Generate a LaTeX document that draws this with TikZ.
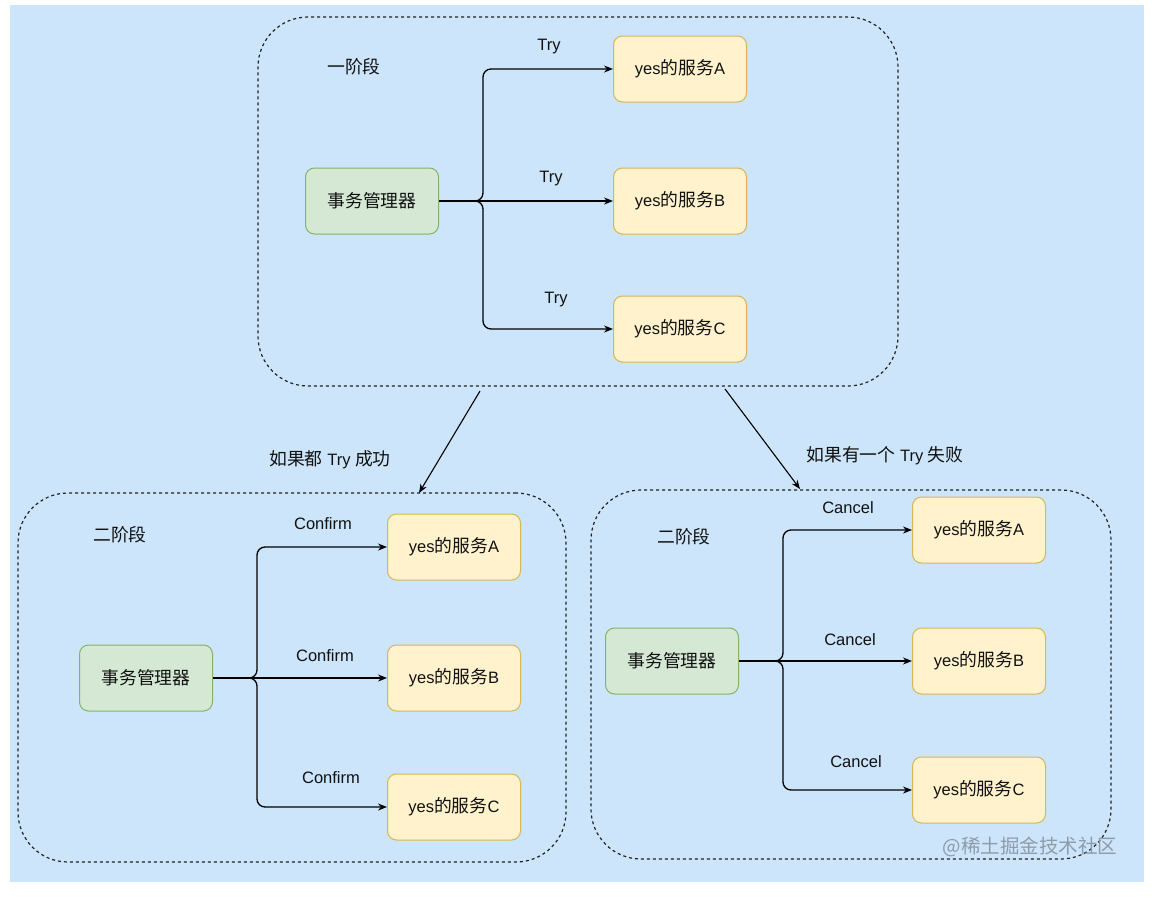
\documentclass[tikz,border=0pt]{standalone}
\usepackage{fontspec}
\setmainfont{Liberation Sans}
\newfontfamily\cjk{Noto Sans CJK SC}[Scale=1.08]
\newfontfamily\wmfont{Noto Sans CJK SC}
\usetikzlibrary{arrows.meta}
\definecolor{bgblue}{HTML}{CCE5FB}
\definecolor{mgrfill}{HTML}{D5E8D4}
\definecolor{mgrline}{HTML}{82B366}
\definecolor{svcfill}{HTML}{FFF2CC}
\definecolor{svcline}{HTML}{D6B656}
\definecolor{grpline}{HTML}{222222}
\definecolor{txt}{HTML}{111111}
\definecolor{wmgray}{HTML}{8E9CAA}
\newcommand\svc[1]{yes{\cjk 的服务}#1}
\newcommand\mgr{{\cjk 事务管理器}}
\tikzset{
  grp/.style={draw=grpline, line width=1.2pt, dash pattern=on 3pt off 3pt, rounded corners=50pt},
  mgrbox/.style={draw=mgrline, fill=mgrfill, line width=1pt, rounded corners=9pt, minimum width=133pt, minimum height=66pt, text=txt},
  svcbox/.style={draw=svcline, fill=svcfill, line width=1pt, rounded corners=9pt, minimum width=133pt, minimum height=66pt, text=txt},
  arr/.style={draw=black, line width=1.3pt, -{Stealth[length=9pt,width=7pt]}},
  brarr/.style={arr, rounded corners=8pt},
  lbl/.style={text=txt, inner sep=0pt},
}
\begin{document}
\begin{tikzpicture}[x=1pt,y=-1pt,font=\fontsize{16.5}{19}\selectfont]
\useasboundingbox (0,0) rectangle (1160,900);
\fill[white] (0,0) rectangle (1160,900);
\fill[bgblue] (10,5) rectangle (1144,882);

% groups
\node[grp, minimum width=640pt, minimum height=369pt] (g1) at (578,201.5) {};
\node[grp, minimum width=548pt, minimum height=369pt] (g2) at (292,677.5) {};
\node[grp, minimum width=520pt, minimum height=369pt] (g3) at (851,674.5) {};

% stage 1
\node[lbl] (t1) at (354,67) {\cjk 一阶段};
\node[mgrbox] (m1) at (372,201) {\mgr};
\node[svcbox] (a1) at (680,69) {\svc{A}};
\node[svcbox] (b1) at (680,201) {\svc{B}};
\node[svcbox] (c1) at (680,329) {\svc{C}};
\coordinate (j1) at (483,201);
\draw[brarr] (m1.east) -- (j1) |- (a1.west);
\draw[arr] (m1.east) -- (b1.west);
\draw[brarr] (m1.east) -- (j1) |- (c1.west);
\node[lbl] (la1) at (549,47) {Try};
\node[lbl] (lb1) at (551,179) {Try};
\node[lbl] (lc1) at (556,300) {Try};

% stage 2 left
\node[lbl] (t2) at (120,535) {\cjk 二阶段};
\node[mgrbox] (m2) at (146,678) {\mgr};
\node[svcbox] (a2) at (454,547) {\svc{A}};
\node[svcbox] (b2) at (454,678) {\svc{B}};
\node[svcbox] (c2) at (454,807) {\svc{C}};
\coordinate (j2) at (257,678);
\draw[brarr] (m2.east) -- (j2) |- (a2.west);
\draw[arr] (m2.east) -- (b2.west);
\draw[brarr] (m2.east) -- (j2) |- (c2.west);
\node[lbl] (la2) at (323,524) {Confirm};
\node[lbl] (lb2) at (325,656) {Confirm};
\node[lbl] (lc2) at (331,778) {Confirm};

% stage 2 right
\node[lbl] (t3) at (684,537) {\cjk 二阶段};
\node[mgrbox] (m3) at (672,661) {\mgr};
\node[svcbox] (a3) at (979,530) {\svc{A}};
\node[svcbox] (b3) at (979,661) {\svc{B}};
\node[svcbox] (c3) at (979,790) {\svc{C}};
\coordinate (j3) at (783,661);
\draw[brarr] (m3.east) -- (j3) |- (a3.west);
\draw[arr] (m3.east) -- (b3.west);
\draw[brarr] (m3.east) -- (j3) |- (c3.west);
\node[lbl] (la3) at (848,508) {Cancel};
\node[lbl] (lb3) at (850,640) {Cancel};
\node[lbl] (lc3) at (856,762) {Cancel};

% transitions
\coordinate (s1) at (480,391);
\coordinate (e1) at (419,493);
\coordinate (s2) at (725,389);
\coordinate (e2) at (800,489);
\draw[arr, line width=1.1pt] (s1) -- (e1);
\draw[arr, line width=1.1pt] (s2) -- (e2);
\node[lbl] (ok) at (330,460) {{\cjk 如果都} Try {\cjk 成功}};
\node[lbl] (fail) at (885,456) {{\cjk 如果有一个} Try {\cjk 失败}};

% watermark
\node[lbl, text=wmgray, font=\wmfont\fontsize{19.5}{22}\selectfont] (wm) at (1030,847) {@稀土掘金技术社区};
\end{tikzpicture}
\end{document}
